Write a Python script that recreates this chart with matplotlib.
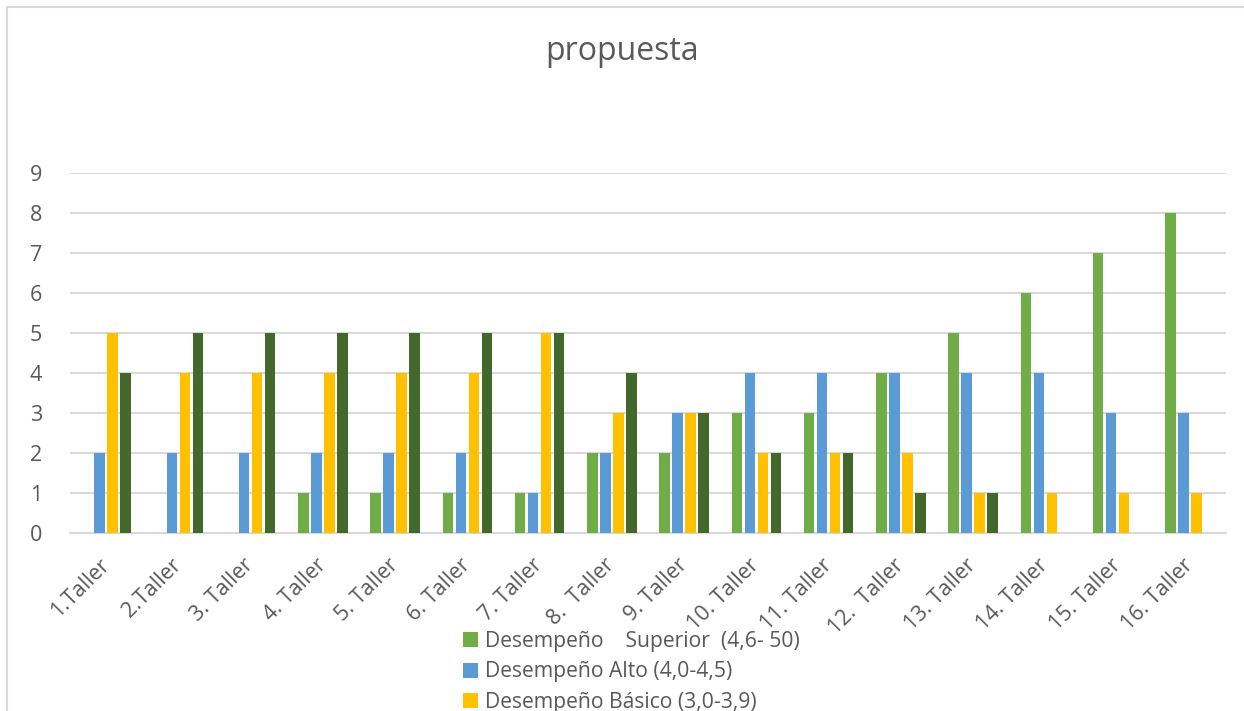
import numpy as np
import matplotlib.pyplot as plt
from matplotlib.patches import Rectangle

plt.rcParams['font.family'] = ['Open Sans', 'DejaVu Sans']

talleres = ['1.Taller', '2.Taller', '3. Taller', '4. Taller', '5. Taller', '6. Taller',
            '7. Taller', '8.  Taller', '9. Taller', '10. Taller', '11. Taller', '12.  Taller',
            '13. Taller', '14. Taller', '15. Taller', '16. Taller']
superior = [0, 0, 0, 1, 1, 1, 1, 2, 2, 3, 3, 4, 5, 6, 7, 8]
alto = [2, 2, 2, 2, 2, 2, 1, 2, 3, 4, 4, 4, 4, 4, 3, 3]
basico = [5, 4, 4, 4, 4, 4, 5, 3, 3, 2, 2, 2, 1, 1, 1, 1]
bajo = [4, 5, 5, 5, 5, 5, 5, 4, 3, 2, 2, 1, 1, 0, 0, 0]

# the 4th legend entry falls below the visible area in the original, so no label
series = [
    ('Desempeño    Superior  (4,6- 50)', superior, '#70AD47'),
    ('Desempeño Alto (4,0-4,5)', alto, '#5B9BD5'),
    ('Desempeño Básico (3,0-3,9)', basico, '#FFC000'),
    ('_nolegend_', bajo, '#43682B'),
]

text_color = '#595959'
grid_color = '#D9D9D9'

fig = plt.figure(figsize=(12.44, 7.11), dpi=100)
ax = fig.add_axes([70 / 1244, 1 - 533 / 711, 1156 / 1244, 360 / 711])

x = np.arange(len(talleres))
width = 0.145
step = 0.18
for i, (name, vals, color) in enumerate(series):
    ax.bar(x + (i - 1.5) * step, vals, width, color=color, label=name, zorder=3)

ax.set_xlim(-0.5, len(talleres) - 0.5)
ax.set_ylim(0, 9)
ax.set_yticks(range(0, 10))
ax.yaxis.grid(True, color=grid_color, linewidth=1.5, zorder=0)
for s in ['top', 'right', 'left']:
    ax.spines[s].set_visible(False)
ax.spines['bottom'].set_color(grid_color)
ax.spines['bottom'].set_linewidth(1.5)
ax.tick_params(axis='both', length=0, colors=text_color, labelsize=15.5)
ax.tick_params(axis='y', pad=20)
ax.set_xticks(x)
ax.set_xticklabels(talleres, rotation=45, ha='right', va='center',
                   rotation_mode='anchor', fontsize=15.5)
ax.tick_params(axis='x', pad=21)

fig.text(0.5, 1 - 52 / 711, 'propuesta', ha='center', va='center',
         fontsize=23, color=text_color)

leg = fig.legend(loc='upper left', bbox_to_anchor=(463 / 1244, 1 - 631 / 711),
                 frameon=False, fontsize=15.2, labelcolor=text_color,
                 handlelength=0.7, handleheight=0.7, handletextpad=0.35,
                 labelspacing=0.45, borderpad=0, borderaxespad=0)

# outer chart frame (cut off on the right and bottom)
fig.patches.append(Rectangle((7 / 1244, -0.1), 1.2, 1 - 7 / 711 + 0.1,
                             transform=fig.transFigure, fill=False,
                             edgecolor=grid_color, linewidth=1.5))

fig.savefig('out.png', dpi=100)
